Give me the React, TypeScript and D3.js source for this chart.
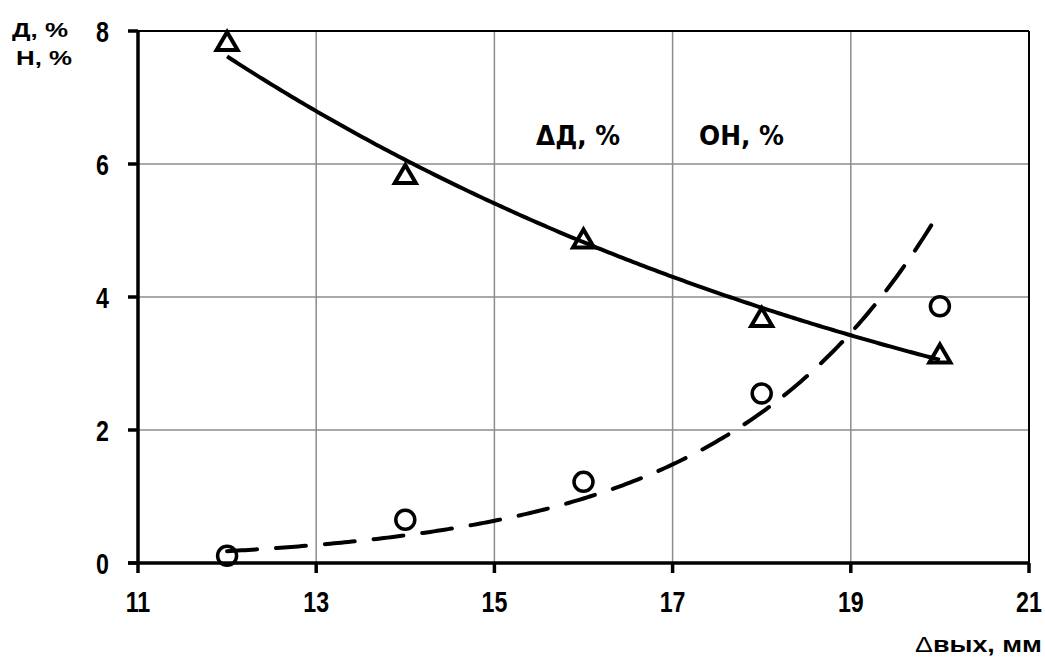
import React from "react";
import * as d3 from "d3";

const xValues = [12, 14, 16, 18, 20];
const dValues = [7.85, 5.85, 4.88, 3.7, 3.15];
const nValues = [0.11, 0.65, 1.22, 2.55, 3.86];
const xTicks = [11, 13, 15, 17, 19, 21];
const yTicks = [0, 2, 4, 6, 8];

const W = 1045;
const H = 670;

function expFit(xs: number[], ys: number[]) {
  const ls = ys.map((v) => Math.log(v));
  const mx = d3.mean(xs) as number;
  const ml = d3.mean(ls) as number;
  let num = 0;
  let den = 0;
  xs.forEach((x, i) => {
    num += (x - mx) * (ls[i] - ml);
    den += (x - mx) * (x - mx);
  });
  const b = num / den;
  const a = ml - b * mx;
  return (x: number) => Math.exp(a + b * x);
}

export default function App() {
  const x = d3.scaleLinear().domain([11, 21]).range([138, 1029]);
  const y = d3.scaleLinear().domain([0, 8]).range([563, 31]);

  const fitD = expFit(xValues, dValues);
  const fitN = expFit(xValues, nValues);
  const xs = d3.range(0, 201).map((i) => 12 + (8 * i) / 200);
  const line = d3
    .line<number>()
    .x((d) => x(d))
    .curve(d3.curveLinear);
  const pathD = line.y((d) => y(fitD(d)))(xs) as string;
  const pathN = line.y((d) => y(fitN(d)))(xs) as string;

  const labelFont = "'Liberation Sans', Arial, sans-serif";
  const legendFont = "'DejaVu Sans', sans-serif";

  const tri = (cx: number, cy: number) => {
    const hw = 10.5;
    const hh = 9;
    return `M${cx},${cy - hh}L${cx + hw},${cy + hh}L${cx - hw},${cy + hh}Z`;
  };

  return (
    <svg
      width={W}
      height={H}
      style={{ position: "absolute", left: 0, top: 0, background: "#fff" }}
    >
      <rect x={0} y={0} width={W} height={H} fill="#fff" />
      {/* grid */}
      {xTicks.slice(1, -1).map((t) => (
        <line key={"gx" + t} x1={x(t)} x2={x(t)} y1={y(0)} y2={y(8)} stroke="#8c8c8c" strokeWidth={1.5} />
      ))}
      {yTicks.slice(1, -1).map((t) => (
        <line key={"gy" + t} x1={x(11)} x2={x(21)} y1={y(t)} y2={y(t)} stroke="#8c8c8c" strokeWidth={1.5} />
      ))}
      {/* frame top/right */}
      <line x1={x(11)} x2={x(21)} y1={y(8)} y2={y(8)} stroke="#000" strokeWidth={2} />
      <line x1={x(21)} x2={x(21)} y1={y(8)} y2={y(0)} stroke="#000" strokeWidth={2} />
      {/* axes */}
      <line x1={x(11)} x2={x(11)} y1={y(8) - 1} y2={y(0) + 1} stroke="#000" strokeWidth={3.5} />
      <line x1={x(11) - 10} x2={x(21) + 1} y1={y(0)} y2={y(0)} stroke="#000" strokeWidth={3.5} />
      {yTicks.map((t) => (
        <line key={"ty" + t} x1={x(11) - 10} x2={x(11)} y1={y(t)} y2={y(t)} stroke="#000" strokeWidth={3.5} />
      ))}
      {xTicks.map((t) => (
        <line key={"tx" + t} x1={x(t)} x2={x(t)} y1={y(0)} y2={y(0) + 10} stroke="#000" strokeWidth={3.5} />
      ))}
      {/* tick labels */}
      {yTicks.map((t) => (
        <text key={"ly" + t} transform={`translate(109,${y(t) + 10.5}) scale(0.8,1)`} textAnchor="end" fontFamily={labelFont} fontWeight="bold" fontSize={29} fill="#000">
          {t}
        </text>
      ))}
      {xTicks.map((t) => (
        <text key={"lx" + t} transform={`translate(${x(t)},612) scale(0.8,1)`} textAnchor="middle" fontFamily={labelFont} fontWeight="bold" fontSize={29} fill="#000">
          {t}
        </text>
      ))}
      {/* axis titles */}
      <text x={12} y={37} fontFamily={labelFont} fontWeight="bold" fontSize={21} fill="#000" textLength={56} lengthAdjust="spacingAndGlyphs">Д, %</text>
      <text x={16} y={65} fontFamily={labelFont} fontWeight="bold" fontSize={21} fill="#000" textLength={56} lengthAdjust="spacingAndGlyphs">Н, %</text>
      <text x={915} y={652} fontFamily={labelFont} fontWeight="bold" fontSize={22} fill="#000" textLength={127} lengthAdjust="spacingAndGlyphs">
        <tspan fontWeight="normal">Δ</tspan>вых, мм
      </text>
      {/* legend */}
      <text x={536} y={145} fontFamily={legendFont} fontWeight="bold" fontSize={26} fill="#000" textLength={84} lengthAdjust="spacingAndGlyphs">ΔД, %</text>
      <text x={699} y={145} fontFamily={legendFont} fontWeight="bold" fontSize={26} fill="#000" textLength={85} lengthAdjust="spacingAndGlyphs">OН, %</text>
      {/* trend lines */}
      <path d={pathD} fill="none" stroke="#000" strokeWidth={4} />
      <path d={pathN} fill="none" stroke="#000" strokeWidth={4} strokeDasharray="30 19" strokeLinecap="round" />
      {/* markers */}
      {xValues.map((v, i) => (
        <path key={"md" + i} d={tri(x(v), y(dValues[i]))} fill="none" stroke="#000" strokeWidth={4} strokeLinejoin="miter" />
      ))}
      {xValues.map((v, i) => (
        <circle key={"mn" + i} cx={x(v)} cy={y(nValues[i])} r={9.5} fill="none" stroke="#000" strokeWidth={3.5} />
      ))}
    </svg>
  );
}
